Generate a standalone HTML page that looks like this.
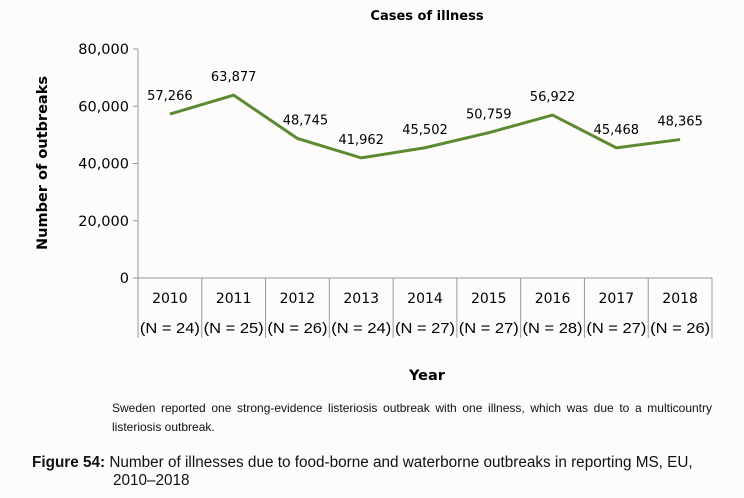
<!DOCTYPE html>
<html><head><meta charset="utf-8"><style>
body{margin:0;background:#fdfcfa;width:744px;height:498px;overflow:hidden;font-family:"DejaVu Sans","Liberation Sans",sans-serif;}
svg{position:absolute;left:0;top:0}
.note{position:absolute;left:112px;top:399px;width:600px;font-size:12px;line-height:19px;color:#111;font-family:"Liberation Sans",sans-serif;text-align:justify;letter-spacing:0px}
.cap{position:absolute;left:32px;top:454px;font-size:15.3px;line-height:18px;color:#111;font-family:"Liberation Sans",sans-serif}
</style></head><body>
<svg id="chart" width="744" height="498"></svg>
<div class="note">Sweden reported one strong-evidence listeriosis outbreak with one illness, which was due to a multicountry listeriosis outbreak.</div>
<div class="cap"><b>Figure 54:</b> Number of illnesses due to food-borne and waterborne outbreaks in reporting MS, EU,<br><span style="margin-left:81px">2010–2018</span></div>
<script>
const years=["2010","2011","2012","2013","2014","2015","2016","2017","2018"];
const nLabels=["(N = 24)","(N = 25)","(N = 26)","(N = 24)","(N = 27)","(N = 27)","(N = 28)","(N = 27)","(N = 26)"];
const values=[57266,63877,48745,41962,45502,50759,56922,45468,48365];
const yTicks=[0,20000,40000,60000,80000];
const NS="http://www.w3.org/2000/svg";
const svg=document.getElementById('chart');
const L=138,R=712,T=49,B=278,maxV=80000;
const bw=(R-L)/years.length;
const x=i=>L+bw*(i+0.5);
const y=v=>B-(v/maxV)*(B-T);
function mk(tag,attrs,txt){const e=document.createElementNS(NS,tag);for(const k in attrs)e.setAttribute(k,attrs[k]);if(txt!==undefined)e.textContent=txt;svg.appendChild(e);return e;}
let t=mk('text',{x:427,y:20,'text-anchor':'middle','font-size':13,'font-weight':'bold',fill:'#000'},'Cases of illness');


let a=mk('line',{x1:L,y1:T,x2:L,y2:B,stroke:'#999'});


a=mk('line',{x1:L,y1:B,x2:R,y2:B,stroke:'#999'});


yTicks.forEach(v=>{
 const k=mk('line',{x1:L-5,y1:y(v),x2:L,y2:y(v),stroke:'#999'});
 
 
 const lb=mk('text',{x:L-9,y:y(v)+5,'text-anchor':'end','font-size':14.5,fill:'#000'},v.toLocaleString('en-US'));
 
 
});
for(let i=0;i<=years.length;i++){
 const s=mk('line',{x1:L+bw*i,y1:B,x2:L+bw*i,y2:338,stroke:'#999'});
 
 
}
years.forEach((yr,i)=>{
 const e=mk('text',{x:x(i),y:303,'text-anchor':'middle','font-size':14,fill:'#000'},yr);
 
 
 const n=mk('text',{x:x(i),y:333,'text-anchor':'middle','font-size':15,fill:'#000','font-family':'Liberation Sans','textLength':60,'lengthAdjust':'spacingAndGlyphs'},nLabels[i]);
 
 
});
let yt=mk('text',{x:0,y:0,'text-anchor':'middle','font-size':14.5,'font-weight':'bold',fill:'#000',transform:'translate(47,163) rotate(-90)'},'Number of outbreaks');


let xt=mk('text',{x:427,y:380,'text-anchor':'middle','font-size':14.5,'font-weight':'bold',fill:'#000'},'Year');


const pl=mk('polyline',{points:values.map((v,i)=>x(i)+','+y(v)).join(' '),fill:'none',stroke:'#5b8a32','stroke-width':3,'stroke-linejoin':'miter'});


values.forEach((v,i)=>{
 const d=mk('text',{x:x(i)+(i===2?8:0),y:y(v)-14,'text-anchor':'middle','font-size':13,fill:'#000'},v.toLocaleString('en-US'));
 
 
});
</script>
</body></html>
